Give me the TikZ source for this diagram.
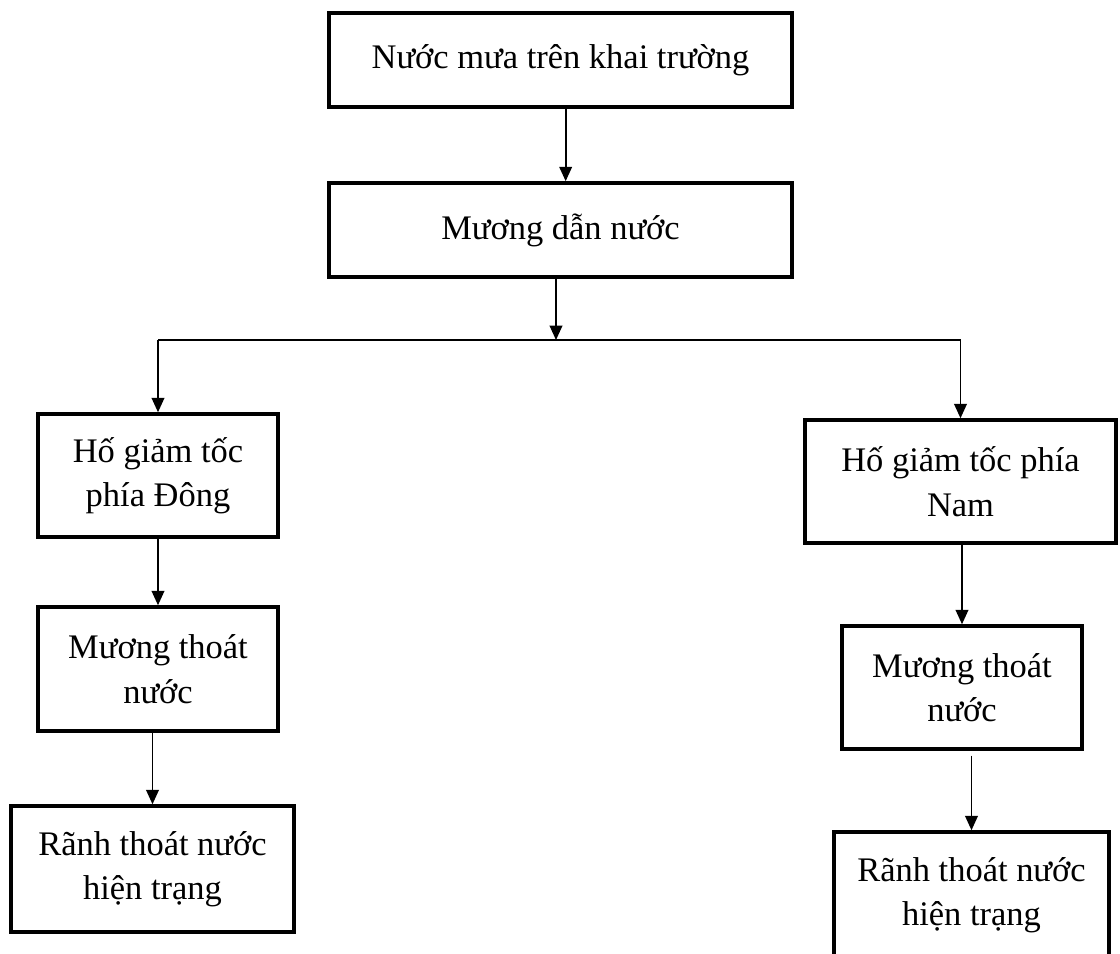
\documentclass[tikz,border=0pt]{standalone}
\usepackage{fontspec}
\setmainfont{Liberation Serif}
\usetikzlibrary{arrows.meta}

\newcommand{\pxu}{0.3468pt}

\tikzset{
  box/.style 2 args={draw, line width=1.4pt, align=center, inner sep=0pt,
    minimum width=#1*\pxu, minimum height=#2*\pxu,
    font=\fontsize{12pt}{15.5pt}\selectfont},
  arr/.style={-{Triangle[length=5pt,width=4.4pt]}, line width=0.6pt}
}

\begin{document}
\begin{tikzpicture}[x=0.01223cm, y=-0.01223cm]
    \useasboundingbox (0,0) rectangle (1120,953);
    \node[box={465}{94}] (rain) at (560.5,60) {Nước mưa trên khai trường};
    \node[box={465}{94}] (canal) at (560.5,230) {Mương dẫn nước};

    \node[box={240}{123}] (pitE) at (158,475.5) {Hố giảm tốc\\phía Đông};
    \node[box={240}{124}] (ditchE) at (158,669) {Mương thoát\\nước};
    \node[box={285}{126}] (drainE) at (152.5,869) {Rãnh thoát nước\\hiện trạng};

    \node[box={313}{123}] (pitS) at (960.5,481.5) {Hố giảm tốc phía\\Nam};
    \node[box={240}{123}] (ditchS) at (962,687.5) {Mương thoát\\nước};
    \node[box={277}{126}] (drainS) at (971.5,895) {Rãnh thoát nước\\hiện trạng};

    \coordinate (split) at (556,340);
    \draw[arr] ([xshift=1.8pt]rain.south) -- ([xshift=1.8pt]canal.north);
    \draw[arr] (canal.south -| split) -- (split);
    \draw[line width=0.6pt] (split -| pitE) -- (split -| pitS);
    \draw[arr] (split -| pitE) -- (pitE);
    \draw[arr] (split -| pitS) -- (pitS);

    \draw[arr] (pitE) -- (ditchE);
    \draw[arr] (ditchE.south -| drainE) -- (drainE);
    \draw[arr] (pitS.south -| ditchS) -- (ditchS);
    \draw[arr] ([yshift=-1.7pt]ditchS.south -| drainS) -- (drainS);
\end{tikzpicture}
\end{document}
